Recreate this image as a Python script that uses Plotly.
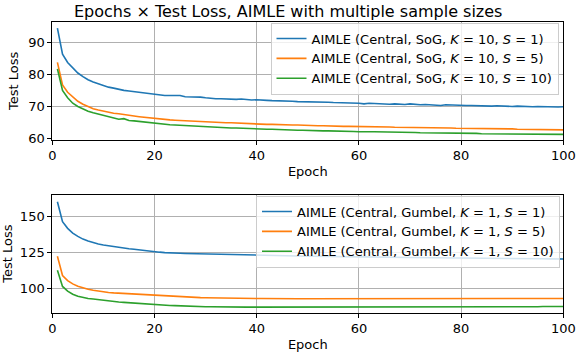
import plotly.graph_objects as go

epochs = list(range(1, 101))

# Top panel: SoG, K = 10
sog_s1 = [94.4, 86.3, 83.7, 81.9, 80.4, 79.3, 78.3, 77.6, 77.0, 76.4,
          76.0, 75.7, 75.3, 75.0, 74.8, 74.6, 74.4, 74.2, 73.9, 73.7,
          73.6, 73.4, 73.4, 73.3, 73.4, 73.0, 73.0, 72.9, 72.9, 72.7,
          72.5, 72.4, 72.4, 72.3, 72.4, 72.2, 72.3, 72.1, 72.0, 72.1,
          71.9, 71.9, 71.8, 71.8, 71.7, 71.7, 71.6, 71.5, 71.5, 71.4,
          71.4, 71.3, 71.3, 71.3, 71.2, 71.2, 71.1, 71.0, 71.2, 71.0,
          70.8, 71.0, 70.9, 70.8, 70.8, 70.7, 70.8, 70.7, 70.6, 70.8,
          70.6, 70.5, 70.6, 70.5, 70.5, 70.3, 70.5, 70.4, 70.4, 70.4,
          70.3, 70.3, 70.2, 70.3, 70.2, 70.1, 70.2, 70.1, 70.2, 70.0,
          70.1, 70.0, 70.0, 69.9, 70.0, 69.9, 69.9, 69.9, 69.8, 69.9]
sog_s5 = [83.7, 76.7, 74.4, 72.9, 71.6, 70.7, 69.9, 69.3, 68.9, 68.5,
          68.2, 67.9, 67.7, 67.4, 67.2, 67.0, 66.8, 66.6, 66.4, 66.3,
          66.1, 65.9, 65.8, 65.7, 65.6, 65.5, 65.5, 65.4, 65.3, 65.2,
          65.1, 65.0, 65.0, 64.9, 64.9, 64.8, 64.7, 64.7, 64.6, 64.5,
          64.5, 64.4, 64.4, 64.3, 64.3, 64.2, 64.2, 64.2, 64.1, 64.1,
          64.0, 64.0, 64.0, 63.9, 63.9, 63.9, 63.8, 63.8, 63.8, 63.7,
          63.7, 63.7, 63.6, 63.6, 63.6, 63.6, 63.5, 63.5, 63.5, 63.5,
          63.4, 63.4, 63.4, 63.4, 63.3, 63.3, 63.3, 63.3, 63.2, 63.2,
          63.2, 63.2, 63.1, 63.1, 63.1, 63.1, 63.0, 63.0, 63.0, 63.0,
          62.9, 62.9, 62.9, 62.9, 62.8, 62.8, 62.8, 62.8, 62.7, 62.7]
sog_s10 = [81.7, 75.0, 72.7, 71.0, 70.0, 69.2, 68.5, 68.0, 67.6, 67.2,
           66.7, 66.3, 66.0, 66.2, 65.6, 65.5, 65.3, 65.1, 65.0, 64.8,
           64.6, 64.4, 64.3, 64.2, 64.1, 64.0, 63.9, 63.9, 63.8, 63.7,
           63.6, 63.5, 63.5, 63.4, 63.3, 63.3, 63.2, 63.2, 63.1, 63.0,
           63.0, 62.9, 62.9, 62.8, 62.8, 62.7, 62.7, 62.6, 62.6, 62.5,
           62.5, 62.5, 62.4, 62.4, 62.4, 62.3, 62.3, 62.3, 62.2, 62.1,
           62.2, 62.1, 62.1, 62.1, 62.0, 62.0, 62.0, 61.9, 61.9, 61.9,
           61.9, 61.8, 61.8, 61.8, 61.8, 61.7, 61.7, 61.7, 61.7, 61.6,
           61.6, 61.6, 61.6, 61.5, 61.5, 61.5, 61.5, 61.5, 61.4, 61.4,
           61.4, 61.4, 61.4, 61.3, 61.3, 61.3, 61.3, 61.3, 61.3, 61.3]

# Bottom panel: Gumbel, K = 1
gum_s1 = [160.2, 146.3, 141.7, 138.4, 136.1, 134.2, 132.9, 131.7, 130.8, 130.1,
          129.5, 129.0, 128.5, 128.0, 127.5, 127.1, 126.6, 126.2, 125.8, 125.5,
          125.1, 124.8, 124.5, 124.4, 124.3, 124.2, 124.1, 124.0, 123.9, 123.8,
          123.7, 123.6, 123.5, 123.4, 123.3, 123.3, 123.2, 123.1, 123.0, 122.9,
          122.8, 122.8, 122.7, 122.6, 122.6, 122.5, 122.5, 122.4, 122.4, 122.3,
          122.3, 122.2, 122.2, 122.1, 122.1, 122.0, 122.0, 121.9, 121.9, 121.8,
          121.8, 121.7, 121.7, 121.6, 121.6, 121.6, 121.5, 121.5, 121.4, 121.4,
          121.4, 121.3, 121.3, 121.2, 121.2, 121.2, 121.1, 121.1, 121.0, 121.0,
          121.0, 120.9, 120.9, 120.9, 120.8, 120.8, 120.8, 120.7, 120.7, 120.7,
          120.6, 120.6, 120.6, 120.5, 120.5, 120.5, 120.4, 120.4, 120.4, 120.3]
gum_s5 = [122.2, 108.8, 105.3, 103.0, 101.4, 100.2, 99.3, 98.6, 97.9, 97.4,
          97.0, 96.7, 96.5, 96.3, 96.0, 95.8, 95.6, 95.4, 95.1, 94.9,
          94.6, 94.4, 94.1, 94.0, 93.8, 93.7, 93.6, 93.5, 93.4, 93.3,
          93.2, 93.2, 93.1, 93.1, 93.0, 93.0, 92.9, 92.9, 92.8, 92.8,
          92.8, 92.7, 92.7, 92.7, 92.7, 92.6, 92.6, 92.6, 92.6, 92.6,
          92.6, 92.5, 92.5, 92.5, 92.5, 92.5, 92.4, 92.4, 92.4, 92.4,
          92.4, 92.4, 92.4, 92.4, 92.4, 92.4, 92.4, 92.4, 92.4, 92.4,
          92.4, 92.5, 92.5, 92.5, 92.5, 92.5, 92.5, 92.6, 92.6, 92.6,
          92.6, 92.6, 92.6, 92.6, 92.6, 92.6, 92.7, 92.7, 92.7, 92.7,
          92.7, 92.7, 92.7, 92.7, 92.8, 92.8, 92.8, 92.8, 92.8, 92.8]
gum_s10 = [112.5, 101.2, 97.9, 95.8, 94.4, 93.5, 92.8, 92.4, 91.9, 91.5,
           91.1, 90.8, 90.4, 90.1, 89.8, 89.6, 89.3, 89.1, 88.9, 88.7,
           88.4, 88.2, 87.9, 87.8, 87.6, 87.5, 87.4, 87.3, 87.1, 87.0,
           87.0, 86.9, 86.9, 86.9, 86.9, 86.8, 86.8, 86.8, 86.8, 86.8,
           86.7, 86.7, 86.7, 86.7, 86.7, 86.7, 86.6, 86.6, 86.6, 86.6,
           86.6, 86.6, 86.6, 86.6, 86.6, 86.6, 86.6, 86.6, 86.6, 86.6,
           86.6, 86.6, 86.7, 86.7, 86.7, 86.7, 86.7, 86.7, 86.7, 86.7,
           86.8, 86.8, 86.8, 86.8, 86.8, 86.8, 86.8, 86.8, 86.8, 86.8,
           86.9, 86.9, 86.9, 86.9, 86.9, 87.0, 87.0, 87.0, 87.0, 87.0,
           87.0, 87.1, 87.1, 87.1, 87.1, 87.2, 87.2, 87.2, 87.2, 87.2]

top_names = ["AIMLE (Central, SoG, <i>K</i> = 10, <i>S</i> = 1)",
             "AIMLE (Central, SoG, <i>K</i> = 10, <i>S</i> = 5)",
             "AIMLE (Central, SoG, <i>K</i> = 10, <i>S</i> = 10)"]
bot_names = ["AIMLE (Central, Gumbel, <i>K</i> = 1, <i>S</i> = 1)",
             "AIMLE (Central, Gumbel, <i>K</i> = 1, <i>S</i> = 5)",
             "AIMLE (Central, Gumbel, <i>K</i> = 1, <i>S</i> = 10)"]
colors = ["#1f77b4", "#ff7f0e", "#2ca02c"]
title_text = "Epochs × Test Loss, AIMLE with multiple sample sizes"

FONT = "DejaVu Sans"
W, H = 576, 352


def px(x):
    return x / W


def py(y):
    return 1 - y / H


fig = go.Figure()
for name, ys, c in zip(top_names, [sog_s1, sog_s5, sog_s10], colors):
    fig.add_trace(go.Scatter(x=epochs, y=ys, mode="lines", name=name,
                             line=dict(color=c, width=1.6),
                             xaxis="x", yaxis="y", legend="legend"))
for name, ys, c in zip(bot_names, [gum_s1, gum_s5, gum_s10], colors):
    fig.add_trace(go.Scatter(x=epochs, y=ys, mode="lines", name=name,
                             line=dict(color=c, width=1.6),
                             xaxis="x2", yaxis="y2", legend="legend2"))

axis_common = dict(showline=True, mirror=True, linecolor="black", linewidth=1,
                   showgrid=True, gridcolor="#b0b0b0", gridwidth=0.8,
                   zeroline=False, ticks="outside", ticklen=4, tickcolor="black",
                   automargin=False, ticklabeloverflow="allow",
                   tickfont=dict(family=FONT, size=13, color="black"))

xdom = [px(52.3), px(563.3)]
fig.update_layout(
    width=W, height=H,
    margin=dict(l=0, r=0, t=0, b=0),
    paper_bgcolor="white", plot_bgcolor="white",
    font=dict(family=FONT, size=13, color="black"),
    xaxis=dict(domain=xdom, range=[0, 100], tickvals=[0, 20, 40, 60, 80, 100],
               anchor="y", title=dict(text="Epoch", font=dict(size=13), standoff=4),
               **axis_common),
    yaxis=dict(domain=[py(139.5), py(22.3)], range=[59.7, 96.2],
               tickvals=[60, 70, 80, 90], anchor="x",
               title=dict(text="Test Loss", font=dict(size=13), standoff=6),
               **axis_common),
    xaxis2=dict(domain=xdom, range=[0, 100], tickvals=[0, 20, 40, 60, 80, 100],
                anchor="y2", title=dict(text="Epoch", font=dict(size=13), standoff=4),
                **axis_common),
    yaxis2=dict(domain=[py(312.7), py(194.5)], range=[82.9, 165.3],
                tickvals=[100, 125, 150], anchor="x2",
                title=dict(text="Test Loss", font=dict(size=13), standoff=6),
                **axis_common),
    legend=dict(x=px(558.5), y=py(22.5), xanchor="right", yanchor="top",
                bgcolor="rgba(255,255,255,0.8)", bordercolor="#cccccc", borderwidth=1,
                font=dict(family=FONT, size=13), itemwidth=30, tracegroupgap=0),
    legend2=dict(x=px(560), y=py(195.5), xanchor="right", yanchor="top",
                 bgcolor="rgba(255,255,255,0.8)", bordercolor="#cccccc", borderwidth=1,
                 font=dict(family=FONT, size=13), itemwidth=30, tracegroupgap=0),
    annotations=[dict(text=title_text, x=px(288), y=py(11), xref="paper", yref="paper",
                      xanchor="center", yanchor="middle", showarrow=False,
                      font=dict(family=FONT, size=16, color="black"))],
    showlegend=True,
)

fig.write_html("out.html", config={"displayModeBar": False},
               post_script="document.body.style.margin='0px';")
